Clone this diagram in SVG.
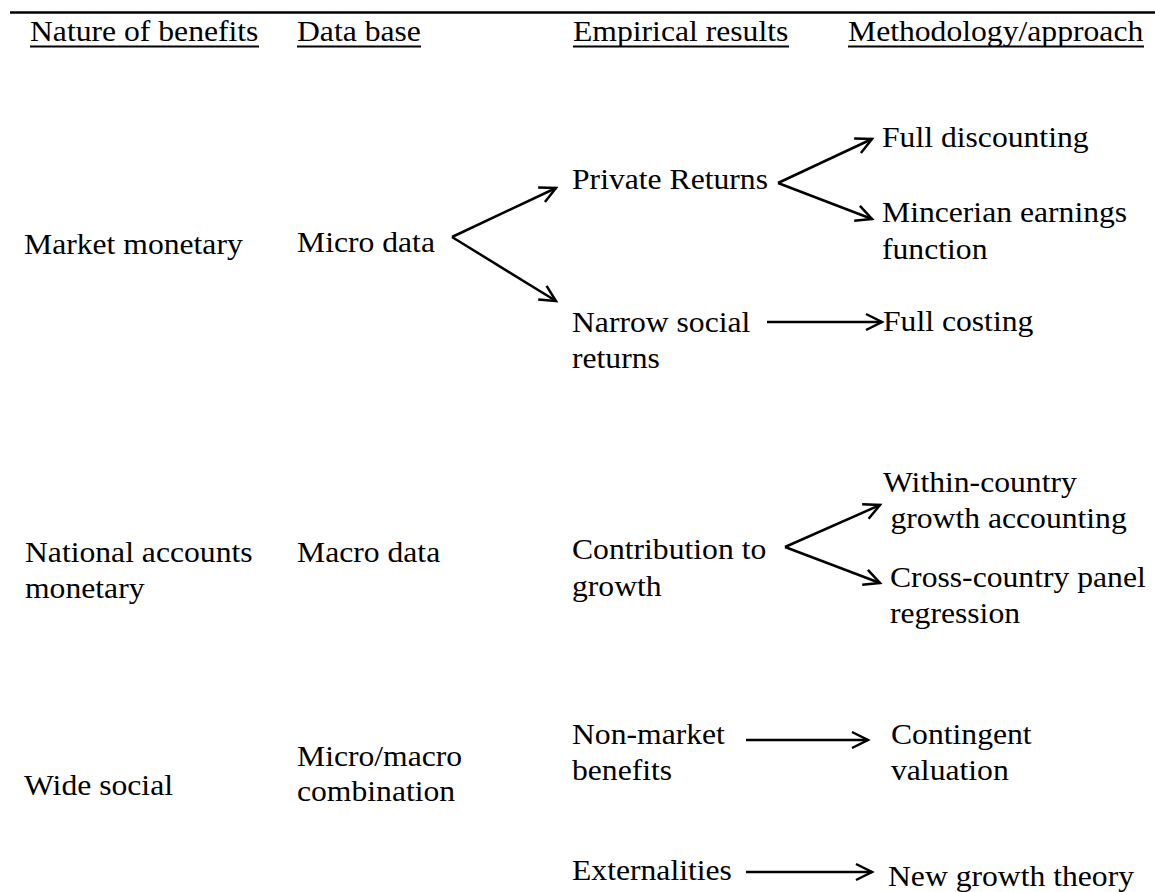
<svg xmlns="http://www.w3.org/2000/svg" width="1155" height="892" viewBox="0 0 1155 892">
  <defs>
    <style>
      text { font-family: "Liberation Serif", "Times New Roman", serif; font-size: 30px; fill: #000; }
      .rule { stroke: #000; stroke-width: 2.5; }
      .uline { stroke: #000; stroke-width: 2; }
      .conn { stroke: #000; stroke-width: 2.5; fill: none; marker-end: url(#open); }
    </style>
    <marker id="open" markerUnits="userSpaceOnUse" markerWidth="24" markerHeight="24" refX="0" refY="0" viewBox="-20 -12 24 24" orient="auto" overflow="visible">
      <path d="M -16 -8 L 0 0 L -16 8" fill="none" stroke="#000" stroke-width="2.5" stroke-linejoin="miter"/>
    </marker>
  </defs>
  <rect width="1155" height="892" fill="#fff"/>

  <!-- top rule and column headings -->
  <g id="header">
    <line class="rule" x1="10" y1="12.5" x2="1155" y2="12.5"/>
    <text transform="translate(30,41) scale(1.055,1)">Nature of benefits</text>
    <text transform="translate(297,41) scale(1.055,1)">Data base</text>
    <text transform="translate(573,41) scale(1.055,1)">Empirical results</text>
    <text transform="translate(848,41) scale(1.055,1)">Methodology/approach</text>
    <line class="uline" x1="30" y1="46.5" x2="259" y2="46.5"/>
    <line class="uline" x1="297" y1="46.5" x2="421" y2="46.5"/>
    <line class="uline" x1="573" y1="46.5" x2="789" y2="46.5"/>
    <line class="uline" x1="848" y1="46.5" x2="1144" y2="46.5"/>
  </g>

  <!-- nature of benefits -->
  <g id="market-monetary"><text transform="translate(24,254) scale(1.055,1)">Market monetary</text></g>
  <g id="national-accounts"><text transform="translate(25,562) scale(1.055,1)"><tspan x="0">National accounts</tspan><tspan x="0" dy="36">monetary</tspan></text></g>
  <g id="wide-social"><text transform="translate(24,795) scale(1.055,1)">Wide social</text></g>

  <!-- data base -->
  <g id="micro-data"><text transform="translate(297,252) scale(1.055,1)">Micro data</text></g>
  <g id="macro-data"><text transform="translate(297,562) scale(1.055,1)">Macro data</text></g>
  <g id="micro-macro"><text transform="translate(297,766) scale(1.055,1)"><tspan x="0">Micro/macro</tspan><tspan x="0" dy="35">combination</tspan></text></g>

  <!-- empirical results -->
  <g id="private-returns"><text transform="translate(572,189) scale(1.055,1)">Private Returns</text></g>
  <g id="narrow-social"><text transform="translate(572,332) scale(1.055,1)"><tspan x="0">Narrow social</tspan><tspan x="0" dy="36">returns</tspan></text></g>
  <g id="contribution"><text transform="translate(572,559) scale(1.055,1)"><tspan x="0">Contribution to</tspan><tspan x="0" dy="37">growth</tspan></text></g>
  <g id="non-market"><text transform="translate(572,744) scale(1.055,1)"><tspan x="0">Non-market</tspan><tspan x="0" dy="36">benefits</tspan></text></g>
  <g id="externalities"><text transform="translate(572,880) scale(1.055,1)">Externalities</text></g>

  <!-- methodology / approach -->
  <g id="full-discounting"><text transform="translate(882,147) scale(1.055,1)">Full discounting</text></g>
  <g id="mincerian"><text transform="translate(882,222) scale(1.055,1)"><tspan x="0">Mincerian earnings</tspan><tspan x="0" dy="37">function</tspan></text></g>
  <g id="full-costing"><text transform="translate(883,331) scale(1.055,1)">Full costing</text></g>
  <g id="within-country"><text transform="translate(883,492) scale(1.055,1)"><tspan x="0">Within-country</tspan><tspan x="7" dy="36">growth accounting</tspan></text></g>
  <g id="cross-country"><text transform="translate(890,587) scale(1.055,1)"><tspan x="0">Cross-country panel</tspan><tspan x="0" dy="36">regression</tspan></text></g>
  <g id="contingent"><text transform="translate(891,744) scale(1.055,1)"><tspan x="0">Contingent</tspan><tspan x="0" dy="36">valuation</tspan></text></g>
  <g id="new-growth"><text transform="translate(888,886) scale(1.055,1)">New growth theory</text></g>

  <!-- connectors -->
  <g id="connectors">
    <line class="conn" x1="452" y1="237" x2="556" y2="188"/>
    <line class="conn" x1="452" y1="237" x2="556" y2="301"/>
    <line class="conn" x1="778" y1="183" x2="872" y2="139"/>
    <line class="conn" x1="778" y1="183" x2="872" y2="219"/>
    <line class="conn" x1="767" y1="322" x2="882" y2="322"/>
    <line class="conn" x1="785" y1="547" x2="880" y2="505"/>
    <line class="conn" x1="785" y1="547" x2="880" y2="583"/>
    <line class="conn" x1="746" y1="740" x2="868" y2="740"/>
    <line class="conn" x1="746" y1="872" x2="872" y2="872"/>
  </g>
</svg>
